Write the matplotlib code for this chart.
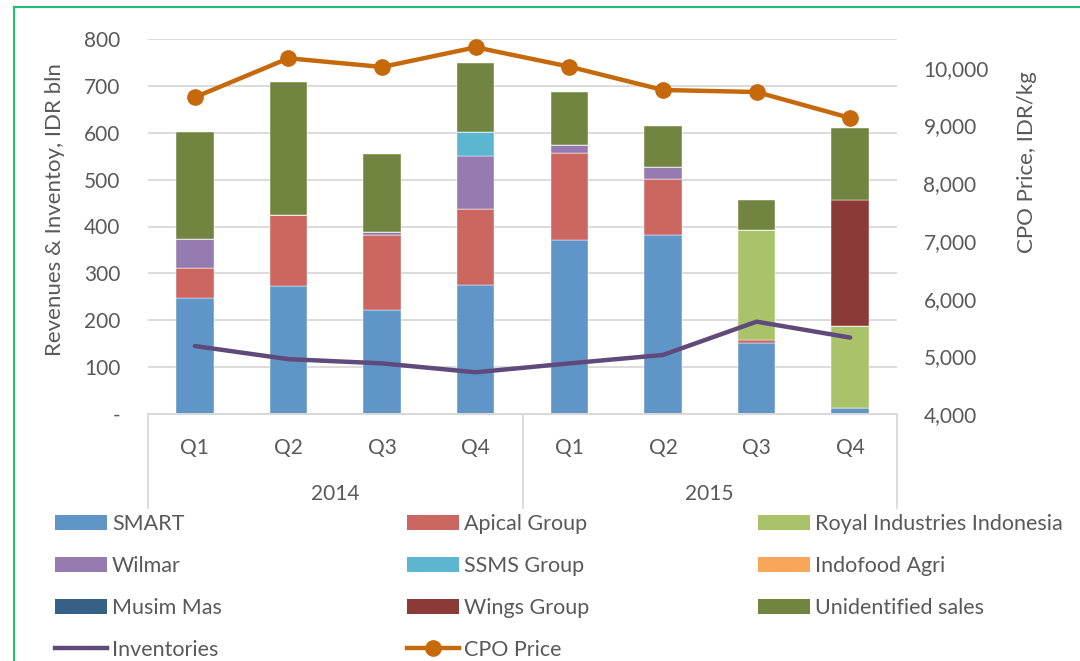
import matplotlib
matplotlib.use("Agg")
import matplotlib.pyplot as plt
from matplotlib.lines import Line2D
from matplotlib.patches import Patch
from matplotlib.ticker import FuncFormatter

plt.rcParams['font.family'] = ['Lato', 'DejaVu Sans']

# data
quarters = ['Q1', 'Q2', 'Q3', 'Q4', 'Q1', 'Q2', 'Q3', 'Q4']
years = ['2014', '2015']
smart = [248, 274, 221, 276, 372, 381, 152, 13]
apical = [63, 151, 161, 162, 185, 121, 6, 0]
royal = [0, 0, 0, 0, 0, 0, 234, 175]
wilmar = [62, 0, 6, 112, 16, 25, 0, 0]
ssms = [0, 0, 0, 51, 0, 0, 0, 0]
indofood = [0, 0, 0, 0, 0, 0, 0, 0]
musim_mas = [0, 0, 0, 0, 0, 0, 0, 0]
wings = [0, 0, 0, 0, 0, 0, 0, 268]
unidentified = [229, 284, 166, 147, 115, 87, 65, 154]
inventories = [145, 117, 108, 89, 108, 126, 197, 163]
cpo_price = [9490, 10166, 10015, 10356, 10021, 9616, 9581, 9131]

series = [
    ('SMART', smart, '#6095c8'),
    ('Apical Group', apical, '#cc6660'),
    ('Royal Industries Indonesia', royal, '#aac36b'),
    ('Wilmar', wilmar, '#957bb0'),
    ('SSMS Group', ssms, '#5cb6cf'),
    ('Indofood Agri', indofood, '#f8a65a'),
    ('Musim Mas', musim_mas, '#376086'),
    ('Wings Group', wings, '#8b3a37'),
    ('Unidentified sales', unidentified, '#728540'),
]
inv_color = '#604a7b'
cpo_color = '#c5690b'
text_color = '#595959'
grid_color = '#d9d9d9'

W, H = 1080, 661
fig = plt.figure(figsize=(W / 100, H / 100), dpi=100)
ax = fig.add_axes([148 / W, 1 - 414 / H, (897 - 148) / W, (414 - 39) / H])
ax2 = ax.twinx()

x = list(range(len(quarters)))
bottom = [0] * len(x)
for name, vals, col in series:
    ax.bar(x, vals, width=0.40, bottom=bottom, color=col, zorder=2,
           edgecolor='white', linewidth=0.3)
    bottom = [b + v for b, v in zip(bottom, vals)]

ax.plot(x, inventories, color=inv_color, lw=3.2, zorder=5,
        solid_capstyle='round')
ax2.plot(x, cpo_price, color=cpo_color, lw=3.2, marker='o', markersize=11,
         zorder=5)

ax.set_xlim(-0.5, 7.5)
ax.set_ylim(0, 800)
ax2.set_ylim(4000, 10500)
ax.set_yticks(range(0, 801, 100))
ax2.set_yticks(range(4000, 10001, 1000))
ax.yaxis.set_major_formatter(FuncFormatter(lambda v, p: '-' if v == 0 else f'{v:.0f}'))
ax2.yaxis.set_major_formatter(FuncFormatter(lambda v, p: f'{v:,.0f}'))

ax.grid(axis='y', color=grid_color, lw=1.3, zorder=0)
ax.set_axisbelow(True)
for a in (ax, ax2):
    for s in ('top', 'left', 'right'):
        a.spines[s].set_visible(False)
    a.spines['bottom'].set_color(grid_color)
    a.spines['bottom'].set_linewidth(1.3)
    a.tick_params(axis='both', length=0, labelsize=15, labelcolor=text_color)
ax.tick_params(axis='y', pad=20)
ax2.tick_params(axis='y', pad=19)

ax.set_xticks(x)
ax.set_xticklabels(quarters)
ax.tick_params(axis='x', pad=17)

# second level of category axis
trans = ax.get_xaxis_transform()
for xs in (-0.5, 3.5, 7.5):
    ax.plot([xs, xs], [0, -0.25], transform=trans, color=grid_color, lw=1.3,
            clip_on=False)
for i, yr in enumerate(years):
    ax.text(1.5 + 4 * i, -0.213, yr, transform=trans, ha='center', va='center',
            fontsize=15, color=text_color)

fig.text(55 / W, 1 - 210 / H, 'Revenues & Inventoy, IDR bln', rotation=90,
         ha='center', va='center', fontsize=16, color=text_color)
fig.text(1027 / W, 1 - 162 / H, 'CPO Price, IDR/kg', rotation=90,
         ha='center', va='center', fontsize=16, color=text_color)

# legend, three columns laid out row by row
handles = [Patch(facecolor=col, label=name) for name, vals, col in series]
handles.append(Line2D([], [], color=inv_color, lw=3.2, label='Inventories'))
handles.append(Line2D([], [], color=cpo_color, lw=3.2, marker='o',
                      markersize=11, label='CPO Price'))
col_x = [55, 407, 758]
for c in range(3):
    fig.legend(handles=handles[c::3], loc='upper left',
               bbox_to_anchor=(col_x[c] / W, 1 - 514 / H), frameon=False,
               fontsize=15.5, labelcolor=text_color, borderpad=0,
               borderaxespad=0, handlelength=2.4, handleheight=0.67,
               handletextpad=0.25, labelspacing=1.02)

# green frame around the chart
fig.add_artist(Line2D([14 / W, 1], [1 - 7 / H, 1 - 7 / H], color='#22c06e', lw=1.5))
fig.add_artist(Line2D([14 / W, 14 / W], [0, 1 - 7 / H], color='#22c06e', lw=1.5))

plt.savefig('out.png', dpi=100)
